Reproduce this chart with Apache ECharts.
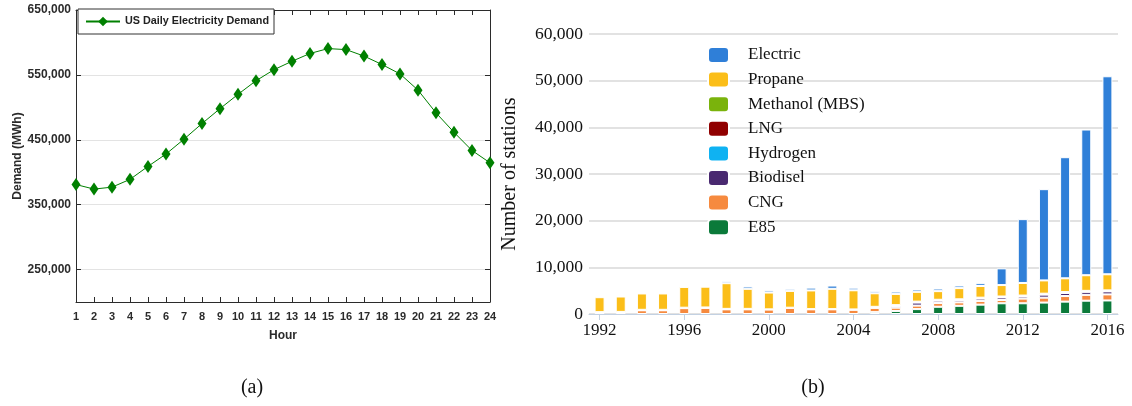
<!DOCTYPE html>
<html>
<head>
<meta charset="utf-8">
<script src="https://cdn.jsdelivr.net/npm/echarts@6/dist/echarts.min.js"></script>
<style>
html,body{margin:0;padding:0;background:#fff;}
#chart{width:1132px;height:406px;}
</style>
</head>
<body>
<div id="chart"></div>
<script>
// ---- Chart (a): US daily electricity demand ----
const hours = ['1','2','3','4','5','6','7','8','9','10','11','12','13','14','15','16','17','18','19','20','21','22','23','24'];
const demand = [381000, 374000, 377000, 389000, 409000, 428000, 451000, 475000, 498000, 520000, 541000, 558000,
                571000, 583000, 590500, 589000, 579000, 566000, 551500, 526500, 491500, 461500, 433500, 414500];
const demandTicks = [250000, 350000, 450000, 550000, 650000];
const demandName = 'US Daily Electricity Demand';

// ---- Chart (b): alternative fueling stations by year ----
const years = ['1992','1993','1994','1995','1996','1997','1998','1999','2000','2001','2002','2003','2004',
               '2005','2006','2007','2008','2009','2010','2011','2012','2013','2014','2015','2016'];
const e85      = [0,0,0,0,0,0,0,0,0,0,0,0,0,400,650,1050,1550,1750,2000,2300,2300,2450,2650,2850,2900];
const cng      = [300,350,800,800,1250,1300,1000,1000,950,1300,1000,1000,900,900,700,750,800,750,800,700,1000,1050,1200,1250,1300];
const biodisel = [0,0,0,0,0,0,0,0,0,0,0,0,0,100,350,650,500,450,500,550,450,650,650,650,650];
const hydrogen = [0,0,0,0,0,0,0,0,0,0,0,0,30,40,50,50,50,50,50,50,50,50,50,60,60];
const lng      = [50,50,50,50,50,50,50,50,50,50,50,50,50,100,150,150,150,150,150,150,150,150,150,150,150];
const methanol = [50,50,50,50,50,50,50,50,0,0,0,0,0,0,0,0,0,0,0,0,0,0,0,0,0];
const propane  = [3200,3300,3500,3500,4450,4450,5500,4300,3600,3600,4000,4350,4100,2900,2400,2100,1850,2400,2500,2450,2700,2850,2950,3350,3450];
const electric = [0,0,0,0,0,0,450,500,450,450,600,700,550,450,500,500,550,550,600,3580,13680,19550,25950,31220,42430];
const yearLabels = ['1992','1996','2000','2004','2008','2012','2016'];

const stackOrder = [
  {name:'E85', data:e85, color:'#0b7a3a'},
  {name:'CNG', data:cng, color:'#f68a3f'},
  {name:'Biodisel', data:biodisel, color:'#492970'},
  {name:'Hydrogen', data:hydrogen, color:'#0fb2f2'},
  {name:'LNG', data:lng, color:'#900000'},
  {name:'Methanol (MBS)', data:methanol, color:'#7ab30c'},
  {name:'Propane', data:propane, color:'#fbbe19'},
  {name:'Electric', data:electric, color:'#2f7fd8'}
];
const legendOrder = ['Electric','Propane','Methanol (MBS)','LNG','Hydrogen','Biodisel','CNG','E85'];

const sans = "'Liberation Sans', Arial, sans-serif";
const serif = "'Liberation Serif', 'Times New Roman', serif";
const fmt = v => Number(v).toLocaleString('en-US');
const dark = '#2b2b2b';

const chart = echarts.init(document.getElementById('chart'), null, {renderer:'canvas'});

const option = {
  animation: false,
  backgroundColor: '#fff',
  grid: [
    {left: 76, top: 10, width: 414, height: 292, containLabel: false},
    {left: 589, top: 34, width: 529, height: 280, containLabel: false}
  ],
  legend: [
    {
      data: [demandName],
      left: 78, top: 9,
      orient: 'horizontal',
      padding: [7, 5, 7, 7],
      borderColor: '#333', borderWidth: 1,
      backgroundColor: '#fff',
      itemWidth: 34, itemHeight: 12,
      textStyle: {fontFamily: sans, fontWeight: 'bold', fontSize: 10.8, color: '#222'}
    },
    {
      data: legendOrder,
      left: 707, top: 46,
      orient: 'vertical',
      icon: 'roundRect',
      itemWidth: 21, itemHeight: 16, itemGap: 6.6,
      padding: 0,
      textStyle: {fontFamily: serif, fontSize: 17, color: '#111', lineHeight: 14, padding: [0,0,0,14]}
    }
  ],
  xAxis: [
    {
      gridIndex: 0, type: 'category', data: hours, boundaryGap: false, position: 'bottom',
      name: 'Hour', nameLocation: 'middle', nameGap: 28,
      nameTextStyle: {fontFamily: sans, fontWeight: 'bold', fontSize: 12, color: dark},
      axisLine: {show: true, lineStyle: {color: dark, width: 1}},
      axisTick: {show: true, inside: true, length: 5, alignWithLabel: true, lineStyle: {color: dark}},
      axisLabel: {fontFamily: sans, fontWeight: 'bold', fontSize: 11, color: dark, margin: 9, interval: 0},
      splitLine: {show: false}
    },
    {
      gridIndex: 0, type: 'category', data: hours, boundaryGap: false, position: 'top',
      axisLine: {show: true, lineStyle: {color: dark, width: 1}},
      axisTick: {show: true, inside: true, length: 5, lineStyle: {color: dark}},
      axisLabel: {show: false},
      splitLine: {show: false}
    },
    {
      gridIndex: 1, type: 'category', data: years, boundaryGap: true,
      axisLine: {show: true, lineStyle: {color: '#c3d1e2', width: 1}},
      axisTick: {show: true, alignWithLabel: true, interval: 3, length: 6, lineStyle: {color: '#c3d1e2'}},
      axisLabel: {fontFamily: serif, fontSize: 17, color: '#111', margin: 8, interval: (i, v) => yearLabels.indexOf(v) >= 0},
      splitLine: {show: false}
    }
  ],
  yAxis: [
    {
      gridIndex: 0, type: 'value', min: 200000, max: 650000, interval: 50000, position: 'left',
      name: 'Demand (MWh)', nameLocation: 'middle', nameGap: 51,
      nameTextStyle: {fontFamily: sans, fontWeight: 'bold', fontSize: 12, color: dark},
      axisLine: {show: true, lineStyle: {color: dark, width: 1}},
      axisTick: {show: true, inside: true, length: 5, customValues: demandTicks, lineStyle: {color: dark}},
      axisLabel: {fontFamily: sans, fontWeight: 'bold', fontSize: 12, color: dark, margin: 5, customValues: demandTicks, formatter: fmt},
      splitLine: {show: true, lineStyle: {color: '#e3e3e3', width: 1}}
    },
    {
      gridIndex: 0, type: 'value', min: 200000, max: 650000, interval: 50000, position: 'right',
      axisLine: {show: true, lineStyle: {color: dark, width: 1}},
      axisTick: {show: true, inside: true, length: 5, customValues: demandTicks, lineStyle: {color: dark}},
      axisLabel: {show: false},
      splitLine: {show: false}
    },
    {
      gridIndex: 1, type: 'value', min: 0, max: 60000, interval: 10000,
      name: 'Number of stations', nameLocation: 'middle', nameGap: 69,
      nameTextStyle: {fontFamily: serif, fontSize: 20, color: '#111'},
      axisLine: {show: false},
      axisTick: {show: false},
      axisLabel: {fontFamily: serif, fontSize: 17.5, color: '#111', margin: 6, formatter: fmt},
      splitLine: {show: true, lineStyle: {color: '#d9d9d9', width: 1.5}}
    }
  ],
  graphic: [
    {type: 'text', x: 252, y: 388, style: {text: '(a)', font: "20px 'Liberation Serif', serif", fill: '#111', align: 'center', verticalAlign: 'middle'}},
    {type: 'text', x: 813, y: 388, style: {text: '(b)', font: "20px 'Liberation Serif', serif", fill: '#111', align: 'center', verticalAlign: 'middle'}}
  ],
  series: [
    {
      name: demandName, type: 'line', xAxisIndex: 0, yAxisIndex: 0,
      data: demand,
      color: '#008000',
      lineStyle: {color: '#008000', width: 1},
      itemStyle: {color: '#008000'},
      symbol: 'diamond', symbolSize: [9, 13], showSymbol: true
    }
  ].concat(stackOrder.map(s => ({
    name: s.name, type: 'bar', xAxisIndex: 2, yAxisIndex: 2, stack: 'stations',
    data: s.data.map(v => v === 0 ? '-' : v),
    barWidth: 10,
    color: s.color,
    itemStyle: {color: s.color, borderColor: '#fff', borderWidth: 1}
  })))
};

chart.setOption(option);
</script>
</body>
</html>
